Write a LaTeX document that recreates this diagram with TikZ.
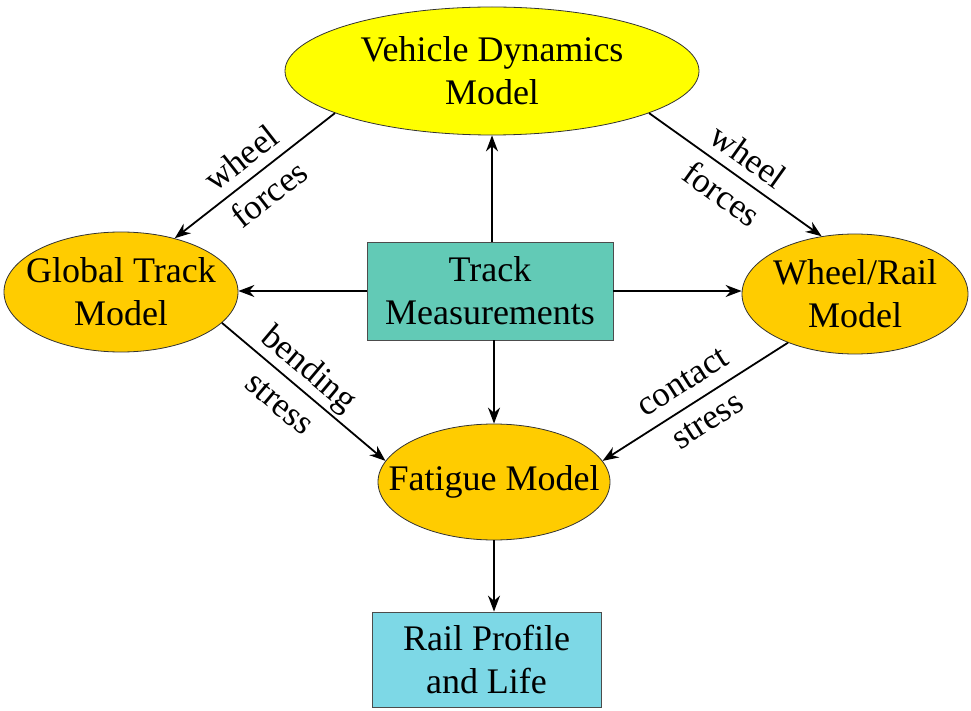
\documentclass[tikz,border=0pt]{standalone}
\usepackage{fontspec}
\setmainfont{Liberation Serif}
\usetikzlibrary{shapes.geometric,arrows.meta}
\definecolor{vdyellow}{RGB}{255,255,0}
\definecolor{modelgold}{RGB}{255,204,0}
\definecolor{measfill}{RGB}{98,202,182}
\definecolor{resultfill}{RGB}{125,216,230}
\begin{document}
\begin{tikzpicture}[x=1pt,y=-1pt,
  model/.style={ellipse, draw=black!80, line width=0.8pt,
    inner xsep=-40pt, inner ysep=-20pt,
    align=center, font=\fontsize{36}{43}\selectfont},
  databox/.style={rectangle, draw=black!70, line width=0.8pt, inner sep=0pt,
    align=center, font=\fontsize{36}{43}\selectfont},
  flow/.style={line width=1.8pt, -{Stealth[length=16pt,width=12pt]}},
  lbl/.style={align=center, font=\fontsize{35}{46}\selectfont, inner sep=1pt}]
\useasboundingbox (0,0) rectangle (971,711);

% model ellipses
\node[model, fill=vdyellow, minimum width=414pt, minimum height=128pt]
  (vd) at (492,71) {Vehicle Dynamics\\Model};
\node[model, fill=modelgold, minimum width=234pt, minimum height=120pt]
  (gt) at (121,292) {Global Track\\Model};
\node[model, fill=modelgold, minimum width=226pt, minimum height=120pt]
  (wr) at (855,294) {Wheel/Rail\\Model};
\node[model, fill=modelgold, minimum width=232pt, minimum height=116pt]
  (fm) at (494,482) {Fatigue Model};

% data boxes
\node[databox, fill=measfill, minimum width=246pt, minimum height=98pt]
  (tm) at (490,291) {Track\\Measurements};
\node[databox, fill=resultfill, minimum width=229pt, minimum height=95pt]
  (rp) at (486.5,659.5) {Rail Profile\\and Life};

% straight flows out of the measurements
\draw[flow] (tm.north -| vd.south) -- (vd.south);
\draw[flow] (tm.west) -- (tm.west -| gt.east);
\draw[flow] (tm.east) -- (tm.east -| wr.west);
\draw[flow] (tm.south -| fm.north) -- (fm.north);
\draw[flow] (fm.south) -- (fm.south |- rp.north);

% labelled diagonal flows
\draw[flow] (vd.195) -- (gt.45)
  node (lwf) [lbl, midway, sloped] {wheel\\forces};
\draw[flow] (vd.345) -- (wr.120)
  node (rwf) [lbl, midway, sloped] {wheel\\forces};
\draw[flow] (gt.343) -- (fm.169)
  node (bst) [lbl, pos=0.45, sloped] {bending\\stress};
\draw[flow] (wr.216) -- (fm.11)
  node (cst) [lbl, midway, sloped] {contact\\stress};
\end{tikzpicture}
\end{document}
